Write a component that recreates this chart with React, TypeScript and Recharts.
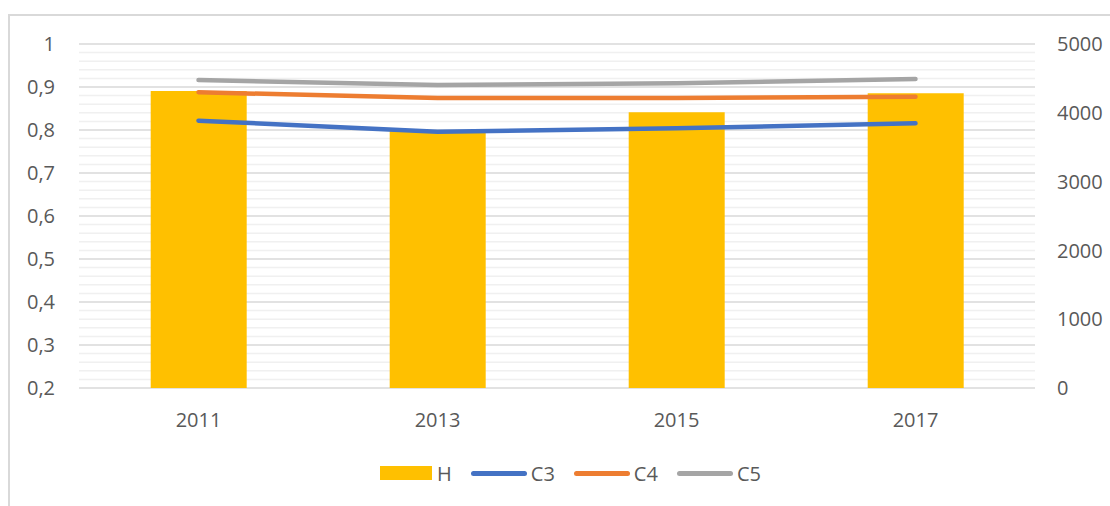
import {
  ComposedChart,
  Bar,
  Line,
  XAxis,
  YAxis,
  CartesianGrid,
  Legend,
} from "recharts";

const years = ["2011", "2013", "2015", "2017"];
const hValues = [4317, 3735, 4007, 4283];
const c3Values = [0.8216, 0.796, 0.8039, 0.8158];
const c4Values = [0.8877, 0.8744, 0.8744, 0.8775];
const c5Values = [0.9163, 0.9047, 0.9086, 0.9186];

const leftTicks = [0.2, 0.3, 0.4, 0.5, 0.6, 0.7, 0.8, 0.9, 1];
const minorTicks = [
  0.22, 0.24, 0.26, 0.28, 0.32, 0.34, 0.36, 0.38, 0.42, 0.44, 0.46, 0.48,
  0.52, 0.54, 0.56, 0.58, 0.62, 0.64, 0.66, 0.68, 0.72, 0.74, 0.76, 0.78,
  0.82, 0.84, 0.86, 0.88, 0.92, 0.94, 0.96, 0.98,
];
const rightTicks = [0, 1000, 2000, 3000, 4000, 5000];

const data = years.map((year, i) => ({
  year,
  H: hValues[i],
  C3: c3Values[i],
  C4: c4Values[i],
  C5: c5Values[i],
}));

const TEXT = "#595959";
const FONT = "'Open Sans', sans-serif";

const legendItems = [
  { name: "H", color: "#FFC000", kind: "bar" },
  { name: "C3", color: "#4472C4", kind: "line" },
  { name: "C4", color: "#ED7D31", kind: "line" },
  { name: "C5", color: "#A5A5A5", kind: "line" },
];

function ChartLegend() {
  return (
    <div
      style={{
        display: "flex",
        justifyContent: "center",
        alignItems: "center",
        height: 30,
        paddingLeft: 31,
        boxSizing: "border-box",
        fontFamily: FONT,
        fontSize: 20,
        color: TEXT,
      }}
    >
      {legendItems.map((item, i) => (
        <div
          key={item.name}
          style={{
            display: "flex",
            alignItems: "center",
            marginLeft: i === 0 ? 0 : 19,
          }}
        >
          {item.kind === "bar" ? (
            <span
              style={{
                width: 52,
                height: 14,
                background: item.color,
                marginRight: 5,
              }}
            />
          ) : (
            <span
              style={{
                width: 56,
                height: 5,
                borderRadius: 3,
                background: item.color,
                marginRight: 4,
              }}
            />
          )}
          <span>{item.name}</span>
        </div>
      ))}
    </div>
  );
}

const fmt = (v: number) => String(v).replace(".", ",");

export default function App() {
  return (
    <div
      style={{
        position: "absolute",
        left: 0,
        top: 0,
        width: 1110,
        height: 506,
        background: "#fff",
        overflow: "hidden",
      }}
    >
      <div
        style={{
          position: "absolute",
          left: 8,
          top: 14,
          width: 1120,
          height: 520,
          borderLeft: "2px solid #d9d9d9",
          borderTop: "2px solid #d9d9d9",
        }}
      />
      <ComposedChart
        width={1110}
        height={506}
        data={data}
        margin={{ top: 44, right: 20, bottom: 18, left: 4 }}
        barCategoryGap="30%"
        style={{ fontFamily: FONT }}
      >
        <CartesianGrid
          yAxisId="left"
          vertical={false}
          horizontalValues={minorTicks}
          stroke="#f0f0f0"
          strokeWidth={1.5}
        />
        <CartesianGrid
          yAxisId="left"
          vertical={false}
          horizontalValues={leftTicks}
          stroke="#d9d9d9"
          strokeWidth={1.5}
        />
        <XAxis
          dataKey="year"
          axisLine={false}
          tickLine={false}
          tickSize={0}
          tickMargin={25}
          height={70}
          tick={{ fill: TEXT, fontSize: 20 }}
        />
        <YAxis
          yAxisId="left"
          domain={[0.2, 1]}
          ticks={leftTicks}
          tickFormatter={fmt}
          axisLine={false}
          tickLine={false}
          tickSize={0}
          tickMargin={24}
          width={75}
          tick={{ fill: TEXT, fontSize: 20 }}
          interval={0}
        />
        <YAxis
          yAxisId="right"
          orientation="right"
          domain={[0, 5000]}
          ticks={rightTicks}
          axisLine={false}
          tickLine={false}
          tickSize={0}
          tickMargin={22}
          width={55}
          tick={{ fill: TEXT, fontSize: 20, textAnchor: "start" }}
          interval={0}
        />
        <Legend
          verticalAlign="bottom"
          height={30}
          wrapperStyle={{ left: 0, width: 1110 }}
          content={() => <ChartLegend />}
        />
        <Bar
          yAxisId="right"
          dataKey="H"
          fill="#FFC000"
          isAnimationActive={false}
        />
        <Line
          yAxisId="left"
          dataKey="C3"
          stroke="#4472C4"
          strokeWidth={4.5}
          strokeLinecap="round"
          dot={false}
          activeDot={false}
          isAnimationActive={false}
        />
        <Line
          yAxisId="left"
          dataKey="C4"
          stroke="#ED7D31"
          strokeWidth={4.5}
          strokeLinecap="round"
          dot={false}
          activeDot={false}
          isAnimationActive={false}
        />
        <Line
          yAxisId="left"
          dataKey="C5"
          stroke="#A5A5A5"
          strokeWidth={4.5}
          strokeLinecap="round"
          dot={false}
          activeDot={false}
          isAnimationActive={false}
        />
      </ComposedChart>
    </div>
  );
}
